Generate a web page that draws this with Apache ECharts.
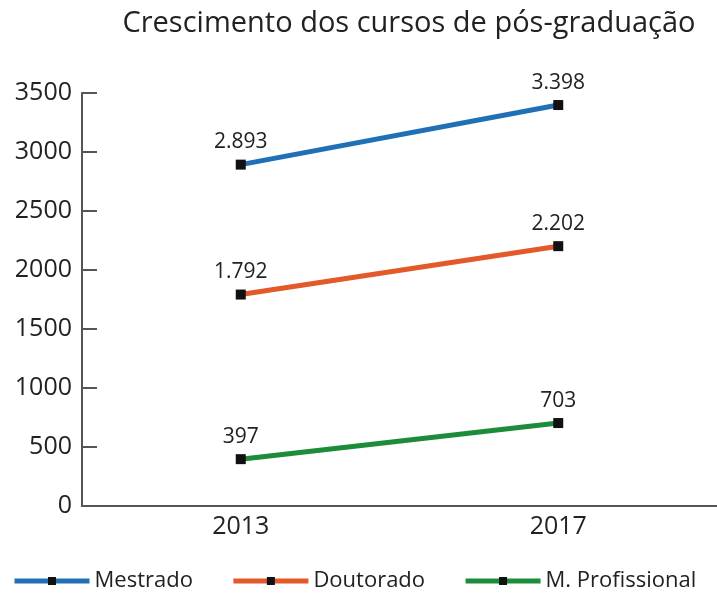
<!DOCTYPE html>
<html>
<head>
<meta charset="utf-8">
<script src="https://cdn.jsdelivr.net/npm/echarts@6/dist/echarts.min.js"></script>
<style>
  html, body { margin: 0; padding: 0; background: #fff; }
  #chart { width: 717px; height: 593px; }
</style>
</head>
<body>
<div id="chart"></div>
<script>
// dados
var anos = ['2013', '2017'];
var mestrado = [2893, 3398];
var doutorado = [1792, 2202];
var profissional = [397, 703];
var nomes = ['Mestrado', 'Doutorado', 'M. Profissional'];
var cores = ['#1f70b5', '#e3592a', '#1d8c3a'];

var chart = echarts.init(document.getElementById('chart'));

function serie(nome, dados, cor) {
    return {
        name: nome,
        type: 'line',
        data: dados,
        symbol: 'rect',
        symbolSize: 10,
        lineStyle: { color: cor, width: 5 },
        itemStyle: { color: '#111', borderWidth: 0 },
        label: {
            show: true,
            position: 'top',
            distance: 7,
            fontSize: 21,
            color: '#222',
            fontFamily: 'Open Sans',
            // separador de milhar com ponto
            formatter: function (p) {
                return p.value >= 1000 ? String(p.value).replace(/(\d)(\d{3})$/, '$1.$2') : String(p.value);
            }
        },
        emphasis: { disabled: true }
    };
}

var option = {
    animation: false,
    textStyle: { fontFamily: 'Open Sans' },
    title: {
        text: 'Crescimento dos cursos de pós-graduação',
        left: 404,
        textAlign: 'center',
        top: 4,
        textStyle: { fontSize: 29, fontWeight: 'normal', color: '#222', fontFamily: 'Open Sans' }
    },
    legend: {
        bottom: 1,
        left: 12,
        width: 705,
        padding: 0,
        itemWidth: 75,
        itemHeight: 10,
        itemGap: 38,
        textStyle: { fontSize: 22, color: '#222', fontFamily: 'Open Sans' },
        data: nomes.map(function (n, i) {
            return { name: n, itemStyle: { color: '#111' }, lineStyle: { color: cores[i], width: 5 } };
        })
    },
    grid: { left: 82, right: 0, top: 93, bottom: 87 },
    xAxis: {
        type: 'category',
        data: anos,
        boundaryGap: true,
        axisLine: { lineStyle: { color: '#555', width: 2 } },
        axisTick: { inside: true, length: 10, lineStyle: { color: '#555', width: 1.5 } },
        axisLabel: { fontSize: 25, color: '#222', margin: 8 }
    },
    yAxis: {
        type: 'value',
        min: 0,
        max: 3500,
        interval: 500,
        splitLine: { show: false },
        axisLine: { show: true, lineStyle: { color: '#555', width: 2 } },
        axisTick: { show: true, inside: true, length: 15, lineStyle: { color: '#555', width: 2 } },
        axisLabel: {
            fontSize: 25, color: '#222', margin: 10,
            formatter: function (v) { return String(v); }
        }
    },
    series: [
        serie(nomes[0], mestrado, cores[0]),
        serie(nomes[1], doutorado, cores[1]),
        serie(nomes[2], profissional, cores[2])
    ]
};

chart.setOption(option);
</script>
</body>
</html>
